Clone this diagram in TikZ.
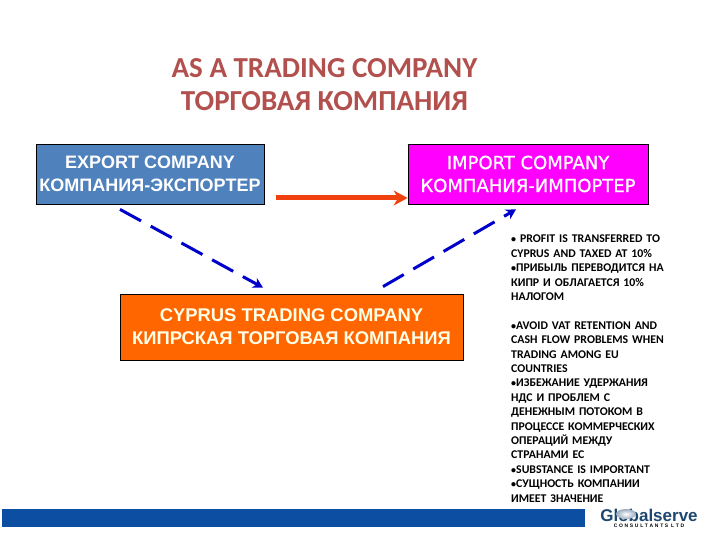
\documentclass[tikz,border=0pt]{standalone}
\usepackage{fontspec}
\setmainfont{Carlito}
\newfontfamily\boxfont{Liberation Sans}
\newfontfamily\verdfont[FakeBold=1]{DejaVu Sans}
\usetikzlibrary{arrows.meta, calc, positioning}
\definecolor{titlered}{RGB}{178,80,78}
\definecolor{exportblue}{RGB}{79,129,189}
\definecolor{importpink}{RGB}{255,0,255}
\definecolor{cyprusorange}{RGB}{255,102,0}
\definecolor{arroworange}{RGB}{240,64,16}
\definecolor{dashblue}{RGB}{0,0,204}
\definecolor{barblue}{RGB}{11,78,162}
\definecolor{logoblue}{RGB}{30,70,110}
\tikzset{
    companybox/.style={draw=black, line width=0.8pt, text=white, align=center, inner sep=0pt},
    tradearrow/.style={-{Stealth[length=10pt,width=11pt]}, dashblue, line width=3pt, dash pattern=on 24pt off 11pt},
    sidetext/.style={anchor=north west, align=left, inner sep=0pt, text width=180pt, font=\bfseries\fontsize{11.8}{14.4}\selectfont}
}
\newcommand{\smallbul}{{\fontsize{10}{10}\selectfont•}}
\begin{document}
\begin{tikzpicture}[x=1pt, y=-1pt, >=Stealth]
    \useasboundingbox (0,0) rectangle (720,540);
    % Title
    \node[titlered, align=center, font=\bfseries\fontsize{29}{33}\selectfont] (title) at (324.5,85) {AS A TRADING COMPANY\\ТОРГОВАЯ КОМПАНИЯ};

    % Companies
    \node[companybox, fill=exportblue, minimum width=228pt, minimum height=60pt, font=\boxfont\bfseries\fontsize{18}{23}\selectfont] (export) at (150,174) {EXPORT COMPANY\\КОМПАНИЯ-ЭКСПОРТЕР};
    \node[companybox, fill=importpink, minimum width=240pt, minimum height=60pt, font=\verdfont\fontsize{18}{23}\selectfont] (import) at (528,174) {IMPORT COMPANY\\КОМПАНИЯ-ИМПОРТЕР};
    \node[companybox, fill=cyprusorange, minimum width=343pt, minimum height=66pt, text=white!90!yellow, font=\boxfont\bfseries\fontsize{18.4}{23}\selectfont] (cyprus) at (291.5,327) {CYPRUS TRADING COMPANY\\КИПРСКАЯ ТОРГОВАЯ КОМПАНИЯ};

    % Flows
    \draw[-{Stealth[length=14pt,width=15pt]}, arroworange, line width=5pt] ($(export.east)+(12,24)$) -- ($(import.west)+(0,24)$);
    \draw[tradearrow] ($(export.south)+(-30,5)$) -- ($(cyprus.north)+(-28.5,-6)$);
    \draw[tradearrow] ($(cyprus.north)+(91.5,-7)$) -- ($(import.south)+(-12,5)$);

    % Notes
    \node[sidetext] (notes) at (511,235) {
        \smallbul\ PROFIT IS TRANSFERRED TO\\
        CYPRUS AND TAXED AT 10\%\\
        \smallbul ПРИБЫЛЬ ПЕРЕВОДИТСЯ НА\\
        КИПР И ОБЛАГАЕТСЯ 10\%\\
        НАЛОГОМ\\[14.4pt]
        \smallbul AVOID VAT RETENTION AND\\
        CASH FLOW PROBLEMS WHEN\\
        TRADING AMONG EU\\
        COUNTRIES\\
        \smallbul ИЗБЕЖАНИЕ УДЕРЖАНИЯ\\
        НДС И ПРОБЛЕМ С\\
        ДЕНЕЖНЫМ ПОТОКОМ В\\
        ПРОЦЕССЕ КОММЕРЧЕСКИХ\\
        ОПЕРАЦИЙ МЕЖДУ\\
        СТРАНАМИ ЕС\\
        \smallbul SUBSTANCE IS IMPORTANT\\
        \smallbul СУЩНОСТЬ КОМПАНИИ\\
        ИМЕЕТ ЗНАЧЕНИЕ};

    % Footer bar and logo
    \fill[barblue] (2,509) rectangle (585,527);
    \node[text=logoblue, inner sep=0pt, font=\boxfont\bfseries\fontsize{17}{17}\selectfont] (logo) at (649,515) {Globalserve};
    \shade[inner color=white, outer color=logoblue!45] (626,514) ellipse (10pt and 5pt);
    \node[inner sep=0pt, font=\boxfont\bfseries\fontsize{5}{5}\selectfont, below=2pt of logo] (logosub) {C\,\,O\,\,N\,\,S\,\,U\,\,L\,\,T\,\,A\,\,N\,\,T\,\,S\ \ L\,\,T\,\,D};
\end{tikzpicture}
\end{document}
